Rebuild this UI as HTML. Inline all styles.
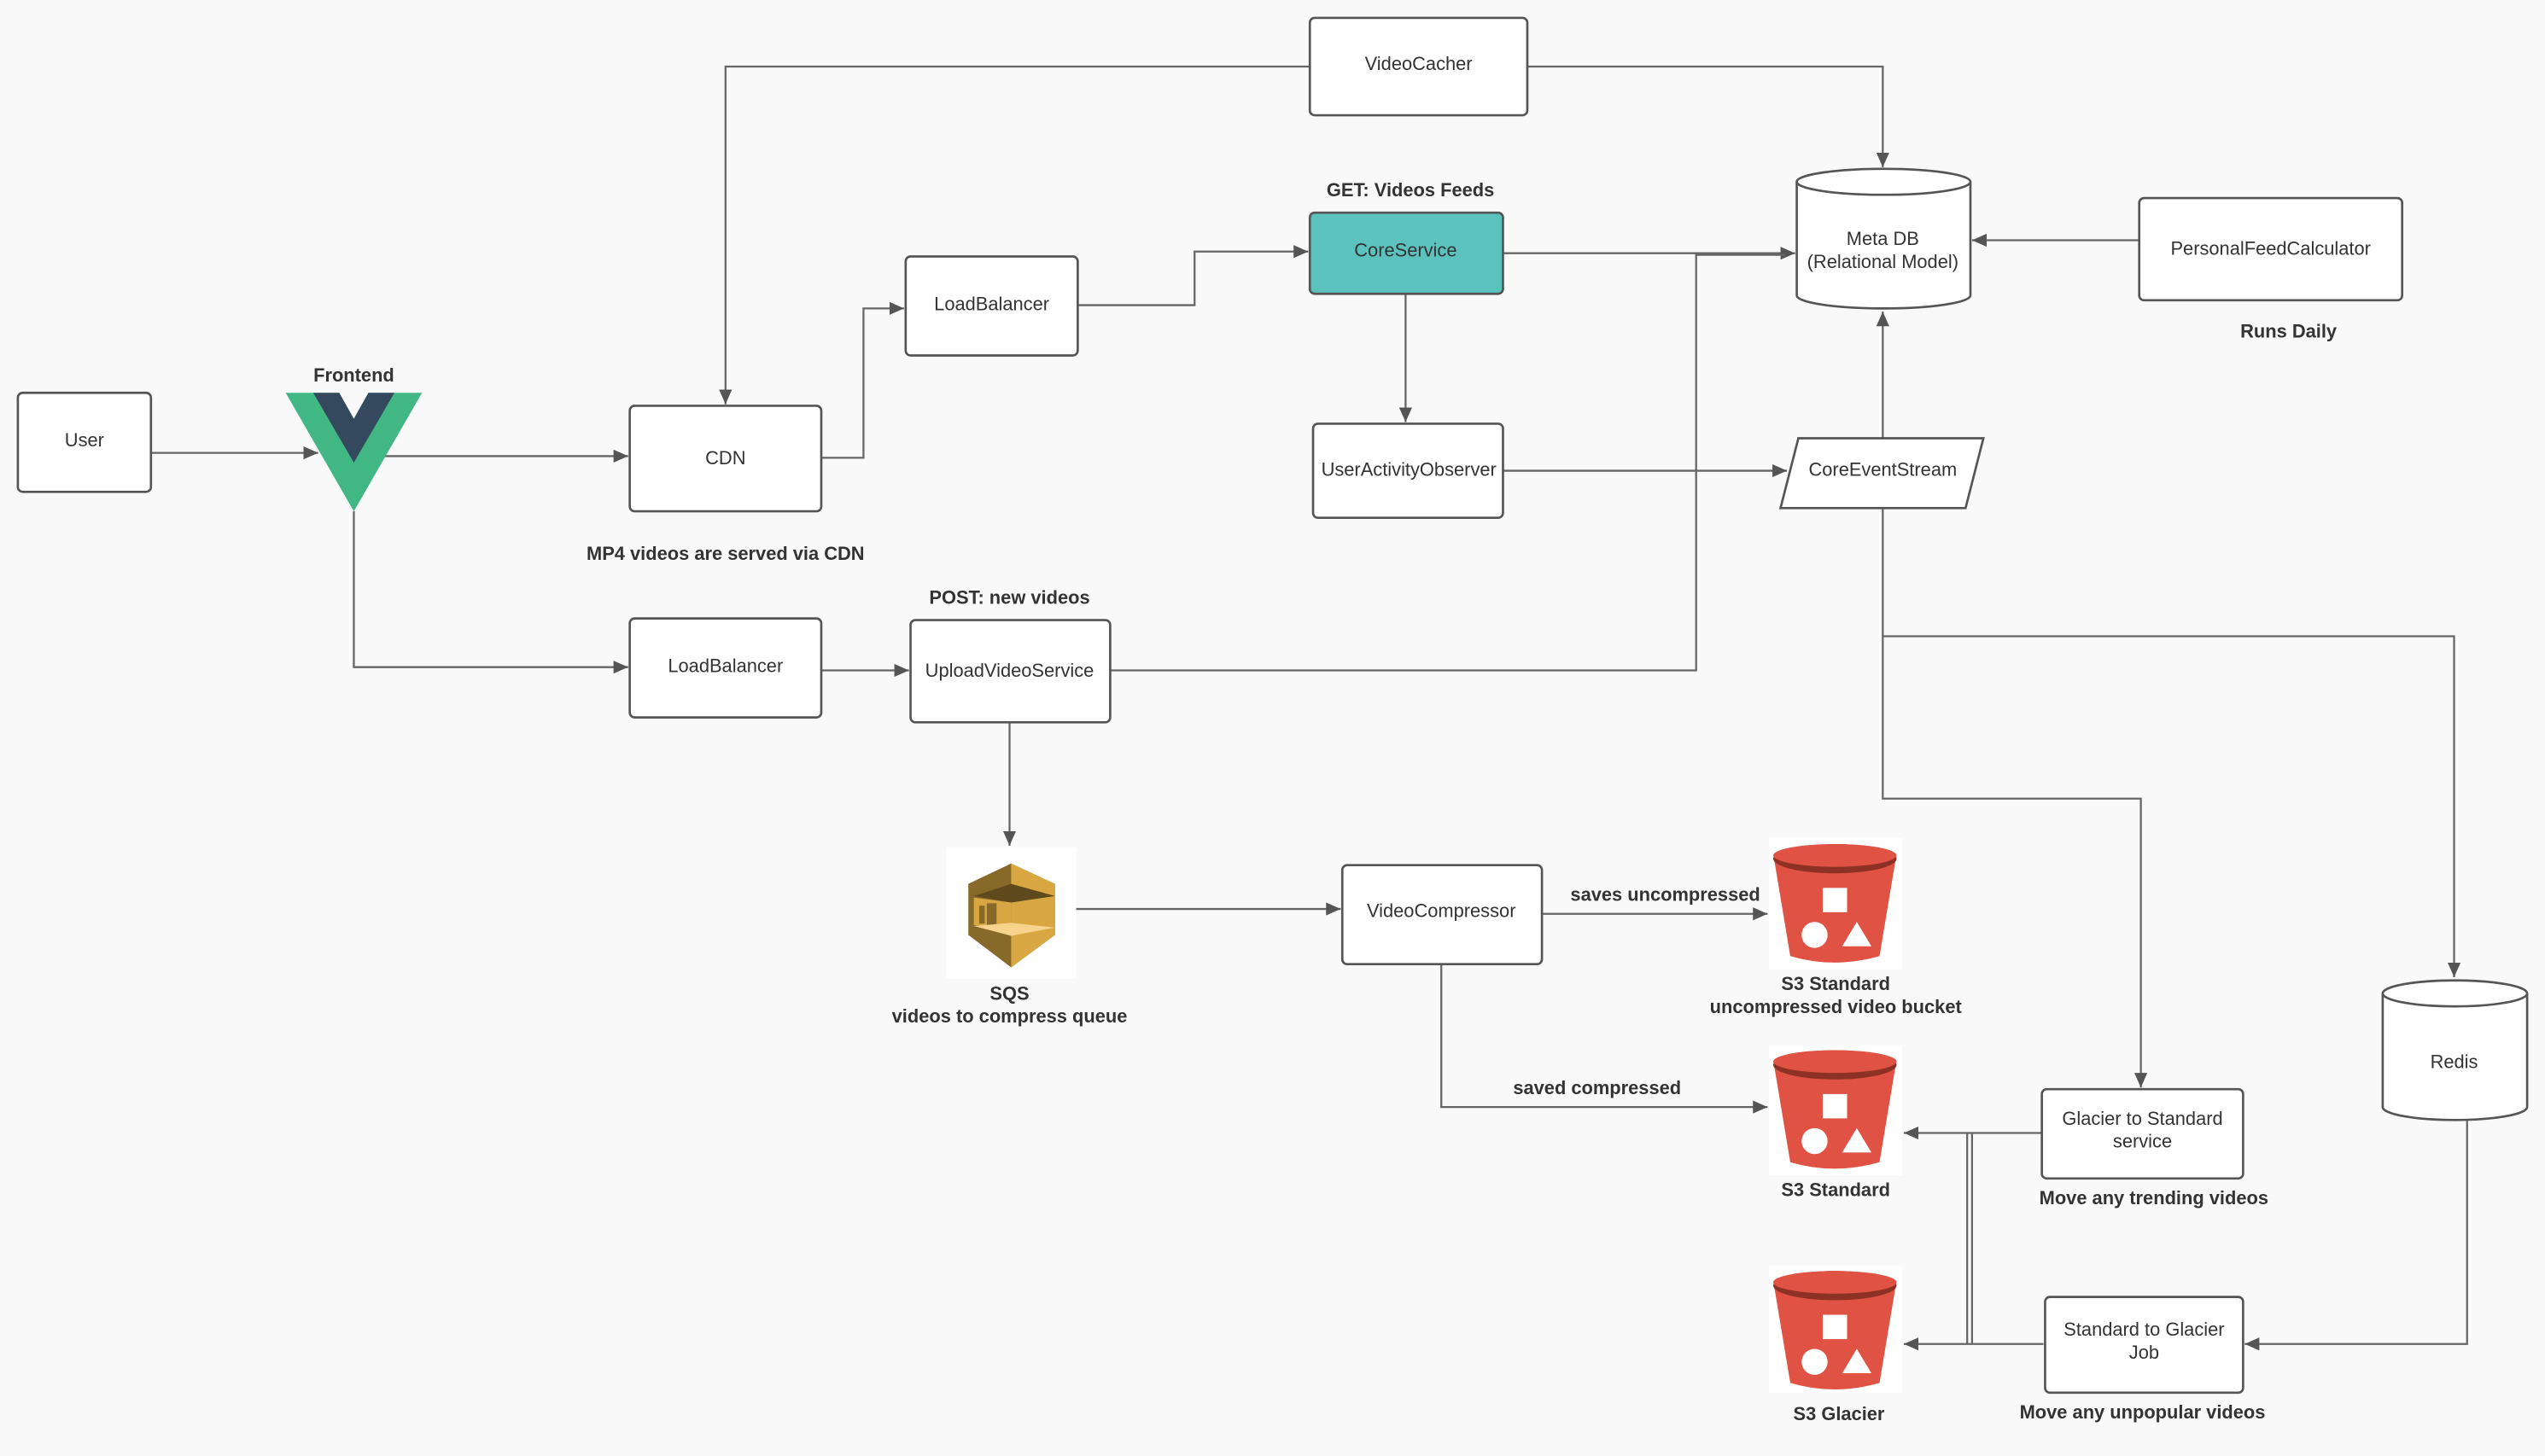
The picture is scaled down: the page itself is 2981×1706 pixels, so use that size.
<!DOCTYPE html>
<html><head><meta charset="utf-8"><style>
html,body{margin:0;padding:0;background:#f9f9f9;}
svg{display:block;}
text{font-family:"Liberation Sans",sans-serif;font-size:11.5px;fill:#333;text-anchor:middle;}
.b{font-weight:bold;}
.box{fill:#fff;stroke:#555;stroke-width:1.4;}
.ln{fill:none;stroke:#666;stroke-width:1.2;}
</style></head><body>
<svg width="2981" height="1706" viewBox="0 0 1568 897" preserveAspectRatio="none" xmlns="http://www.w3.org/2000/svg">
<defs>
<marker id="a" markerWidth="10" markerHeight="8" refX="9" refY="4" orient="auto" markerUnits="userSpaceOnUse"><path d="M0,0 L9,4 L0,8 z" fill="#555"/></marker>
<g id="bucket">
<path d="M3,12 L78,12 L68,72 Q40,80 13,72 Z" fill="#e05243"/>
<ellipse cx="40.5" cy="12" rx="38" ry="9" fill="#8c3123"/>
<ellipse cx="40.5" cy="10" rx="38" ry="7" fill="#e05243"/>
<rect x="33" y="30" width="15" height="15" fill="#fff"/>
<circle cx="28" cy="59" r="8" fill="#fff"/>
<path d="M54,51 L63,66 L45,66 Z" fill="#fff"/>
</g>
</defs>
<rect width="1568" height="897" fill="#f9f9f9"/>

<!-- connectors -->
<path class="ln" d="M807,41 H447 V249" marker-end="url(#a)"/>
<path class="ln" d="M941,41 H1160 V103" marker-end="url(#a)"/>
<path class="ln" d="M1318,148 H1215" marker-end="url(#a)"/>
<path class="ln" d="M926,156 H1106" marker-end="url(#a)"/>
<path class="ln" d="M684,413 H1045 V157 H1100"/>
<path class="ln" d="M866,181 V260" marker-end="url(#a)"/>
<path class="ln" d="M926,290 H1101" marker-end="url(#a)"/>
<path class="ln" d="M1160,270 V192" marker-end="url(#a)"/>
<path class="ln" d="M1160,313 V392 H1512 V602" marker-end="url(#a)"/>
<path class="ln" d="M1160,392 V492 H1319 V670" marker-end="url(#a)"/>
<path class="ln" d="M93,279 H196" marker-end="url(#a)"/>
<path class="ln" d="M237,281 H387" marker-end="url(#a)"/>
<path class="ln" d="M218,315 V411 H387" marker-end="url(#a)"/>
<path class="ln" d="M506,282 H532 V190 H557" marker-end="url(#a)"/>
<path class="ln" d="M664,188 H736 V155 H806" marker-end="url(#a)"/>
<path class="ln" d="M506,413 H560" marker-end="url(#a)"/>
<path class="ln" d="M622,445 V521" marker-end="url(#a)"/>
<path class="ln" d="M663,560 H826" marker-end="url(#a)"/>
<path class="ln" d="M950,563 H1089" marker-end="url(#a)"/>
<path class="ln" d="M888,594 V682 H1089" marker-end="url(#a)"/>
<path class="ln" d="M1258,698 H1173" marker-end="url(#a)"/>
<path class="ln" d="M1259,828 H1173" marker-end="url(#a)"/>
<path class="ln" d="M1215,698 V828 M1212,698 V828"/>
<path class="ln" d="M1520,690 V828 H1383" marker-end="url(#a)"/>

<!-- nodes -->
<rect class="box" x="807" y="11" width="134" height="60" rx="3"/><text x="874" y="43">VideoCacher</text>

<path d="M1107,112 V182 A53.5,8 0 0 0 1214,182 V112" class="box"/>
<ellipse cx="1160.5" cy="112" rx="53.5" ry="8" class="box"/>
<text x="1160" y="151">Meta DB</text><text x="1160" y="165">(Relational Model)</text>

<rect class="box" x="1318" y="122" width="162" height="63" rx="3"/><text x="1399" y="157">PersonalFeedCalculator</text>
<text class="b" x="1410" y="208">Runs Daily</text>

<text class="b" x="869" y="121">GET: Videos Feeds</text>
<rect x="807" y="131" width="119" height="50" rx="3" fill="#5bc2bd" stroke="#555" stroke-width="1.4"/><text x="866" y="158">CoreService</text>

<rect class="box" x="558" y="158" width="106" height="61" rx="3"/><text x="611" y="191">LoadBalancer</text>

<text class="b" x="218" y="235">Frontend</text>
<path d="M176,242 H209 L218,258 L227,242 H260 L218,315 Z" fill="#41b883"/>
<path d="M193,242 H209 L218,258 L227,242 H243 L218,285 Z" fill="#34495e"/>

<rect class="box" x="11" y="242" width="82" height="61" rx="3"/><text x="52" y="275">User</text>
<rect class="box" x="388" y="250" width="118" height="65" rx="3"/><text x="447" y="286">CDN</text>
<text class="b" x="447" y="345">MP4 videos are served via CDN</text>

<rect class="box" x="809" y="261" width="117" height="58" rx="3"/><text x="868" y="293">UserActivityObserver</text>
<path class="box" d="M1108,270 H1222 L1211,313 H1097 Z"/><text x="1160" y="293">CoreEventStream</text>

<text class="b" x="622" y="372">POST: new videos</text>
<rect class="box" x="388" y="381" width="118" height="61" rx="3"/><text x="447" y="414">LoadBalancer</text>
<rect class="box" x="561" y="382" width="123" height="63" rx="3"/><text x="622" y="417">UploadVideoService</text>

<!-- SQS -->
<rect x="583" y="522" width="80" height="81" fill="#fff"/>
<g transform="translate(583,522)">
<path d="M40,10 L67,22.5 L67,54 L40,74 L13.6,54 L13.6,22.5 Z" fill="#876929"/>
<path d="M40,10 L67,22.5 L67,54 L40,74 Z" fill="#d9a741"/>
<path d="M17,30 L40,22.5 L67,30 L40,34 Z" fill="#5e4a1c"/>
<path d="M17,31 L40,34 L40,51 L17,48 Z" fill="#d9a741"/>
<path d="M40,34 L67,36 L67,48 L40,51 Z" fill="#d9a741"/>
<path d="M20.3,36 h3.4 v11 h-3.4 z M25,34.5 h6 v15 h-6 z" fill="#876929"/>
<path d="M17,48.5 L40,46.5 L67,49.5 L40,54.5 Z" fill="#f7d38e"/>
</g>
<text class="b" x="622" y="616">SQS</text>
<text class="b" x="622" y="630">videos to compress queue</text>

<rect class="box" x="827" y="533" width="123" height="61" rx="3"/><text x="888" y="565">VideoCompressor</text>
<text class="b" x="1026" y="555">saves uncompressed</text>
<text class="b" x="984" y="674">saved compressed</text>

<rect x="1090" y="516" width="82" height="81" fill="#fff"/>
<use href="#bucket" x="1090" y="517"/>
<text class="b" x="1131" y="610">S3 Standard</text>
<text class="b" x="1131" y="624">uncompressed video bucket</text>

<rect x="1090" y="644" width="82" height="80" fill="#fff"/>
<use href="#bucket" x="1090" y="644"/>
<text class="b" x="1131" y="737">S3 Standard</text>

<rect x="1090" y="780" width="82" height="78" fill="#fff"/>
<use href="#bucket" x="1090" y="780"/>
<text class="b" x="1133" y="875">S3 Glacier</text>

<rect class="box" x="1258" y="671" width="124" height="55" rx="3"/><text x="1320" y="693">Glacier to Standard</text><text x="1320" y="707">service</text>
<text class="b" x="1327" y="742">Move any trending videos</text>
<rect class="box" x="1260" y="799" width="122" height="59" rx="3"/><text x="1321" y="823">Standard to Glacier</text><text x="1321" y="837">Job</text>
<text class="b" x="1320" y="874">Move any unpopular videos</text>

<path d="M1468,612 V682 A44.5,8 0 0 0 1557,682 V612" class="box"/>
<ellipse cx="1512.5" cy="612" rx="44.5" ry="8" class="box"/>
<text x="1512" y="658">Redis</text>
</svg>
</body></html>
